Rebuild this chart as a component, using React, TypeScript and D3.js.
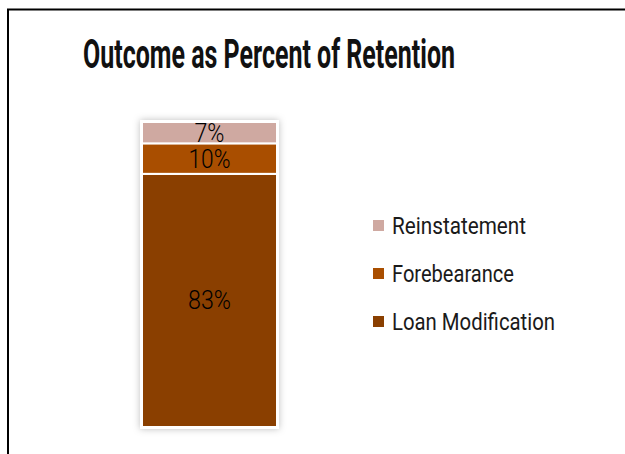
import React from "react";
import * as d3 from "d3";

const categories = ["Retention"];
const seriesNames = ["Loan Modification", "Forebearance", "Reinstatement"];
const loanModification = [0.83];
const forebearance = [0.1];
const reinstatement = [0.07];
const valueLabels = ["83%", "10%", "7%"];
const legendOrder = ["Reinstatement", "Forebearance", "Loan Modification"];
const titleText = "Outcome as Percent of Retention";

const colors: Record<string, string> = {
  "Loan Modification": "#8A3F00",
  Forebearance: "#A94E00",
  Reinstatement: "#CFA9A1",
};

const legendTextWidth: Record<string, number> = {
  Reinstatement: 134,
  Forebearance: 122,
  "Loan Modification": 163,
};
const labelWidth: Record<string, number> = {
  "83%": 43,
  "10%": 42,
  "7%": 30,
};

export default function App() {
  const W = 625;
  const H = 454;
  const rows = categories.map((c, i) => ({
    category: c,
    "Loan Modification": loanModification[i],
    Forebearance: forebearance[i],
    Reinstatement: reinstatement[i],
  }));
  const stack = d3.stack<any>().keys(seriesNames);
  const stacked = stack(rows);

  const x = d3.scaleBand().domain(categories).range([142, 277]);
  const y = d3.scaleLinear().domain([0, 1]).range([427, 122]);

  const legendY = d3.scalePoint().domain(legendOrder).range([225.5, 321.5]);

  const font = "Roboto, 'Liberation Sans', sans-serif";

  return (
    <svg
      width={W}
      height={H}
      style={{ position: "absolute", left: 0, top: 0, background: "#fff" }}
    >
      <defs>
        <filter id="shadow" x="-20%" y="-10%" width="140%" height="120%">
          <feDropShadow dx="0" dy="0" stdDeviation="3.5" floodColor="#000" floodOpacity="0.25" />
        </filter>
      </defs>
      <rect x={0} y={0} width={W} height={H} fill="#fff" />
      <rect x={8} y={9.5} width={700} height={600} fill="none" stroke="#000" strokeWidth={2} />
      <text
        x={83}
        y={68}
        fontFamily={font}
        fontWeight={700}
        fontSize={41}
        fill="#111"
        textLength={372}
        lengthAdjust="spacingAndGlyphs"
      >
        {titleText}
      </text>

      {categories.map((c) => (
        <rect
          key={c}
          x={(x(c) as number) - 2}
          y={y(1) - 2}
          width={x.bandwidth() + 4}
          height={y(0) - y(1) + 4}
          fill="#fff"
          filter="url(#shadow)"
        />
      ))}

      {stacked.map((s, si) =>
        s.map((d, di) => (
          <rect
            key={s.key + di}
            x={x(categories[di]) as number}
            y={y(d[1])}
            width={x.bandwidth()}
            height={y(d[0]) - y(d[1])}
            fill={colors[s.key]}
            stroke="#fff"
            strokeWidth={2}
          />
        ))
      )}

      {stacked.map((s, si) =>
        s.map((d, di) => {
          const label = valueLabels[si];
          return (
            <text
              key={"l" + s.key + di}
              x={(x(categories[di]) as number) + x.bandwidth() / 2}
              y={(y(d[0]) + y(d[1])) / 2 + 9}
              textAnchor="middle"
              fontFamily={font}
              fontWeight={300}
              fontSize={26}
              fill="#000"
              textLength={labelWidth[label]}
              lengthAdjust="spacingAndGlyphs"
            >
              {label}
            </text>
          );
        })
      )}

      {legendOrder.map((name) => (
        <g key={name}>
          <rect
            x={373}
            y={(legendY(name) as number) - 5.5}
            width={11}
            height={11}
            fill={colors[name]}
          />
          <text
            x={392}
            y={(legendY(name) as number) + 8}
            fontFamily={font}
            fontSize={24}
            fill="#1a1a1a"
            textLength={legendTextWidth[name]}
            lengthAdjust="spacingAndGlyphs"
          >
            {name}
          </text>
        </g>
      ))}
    </svg>
  );
}
